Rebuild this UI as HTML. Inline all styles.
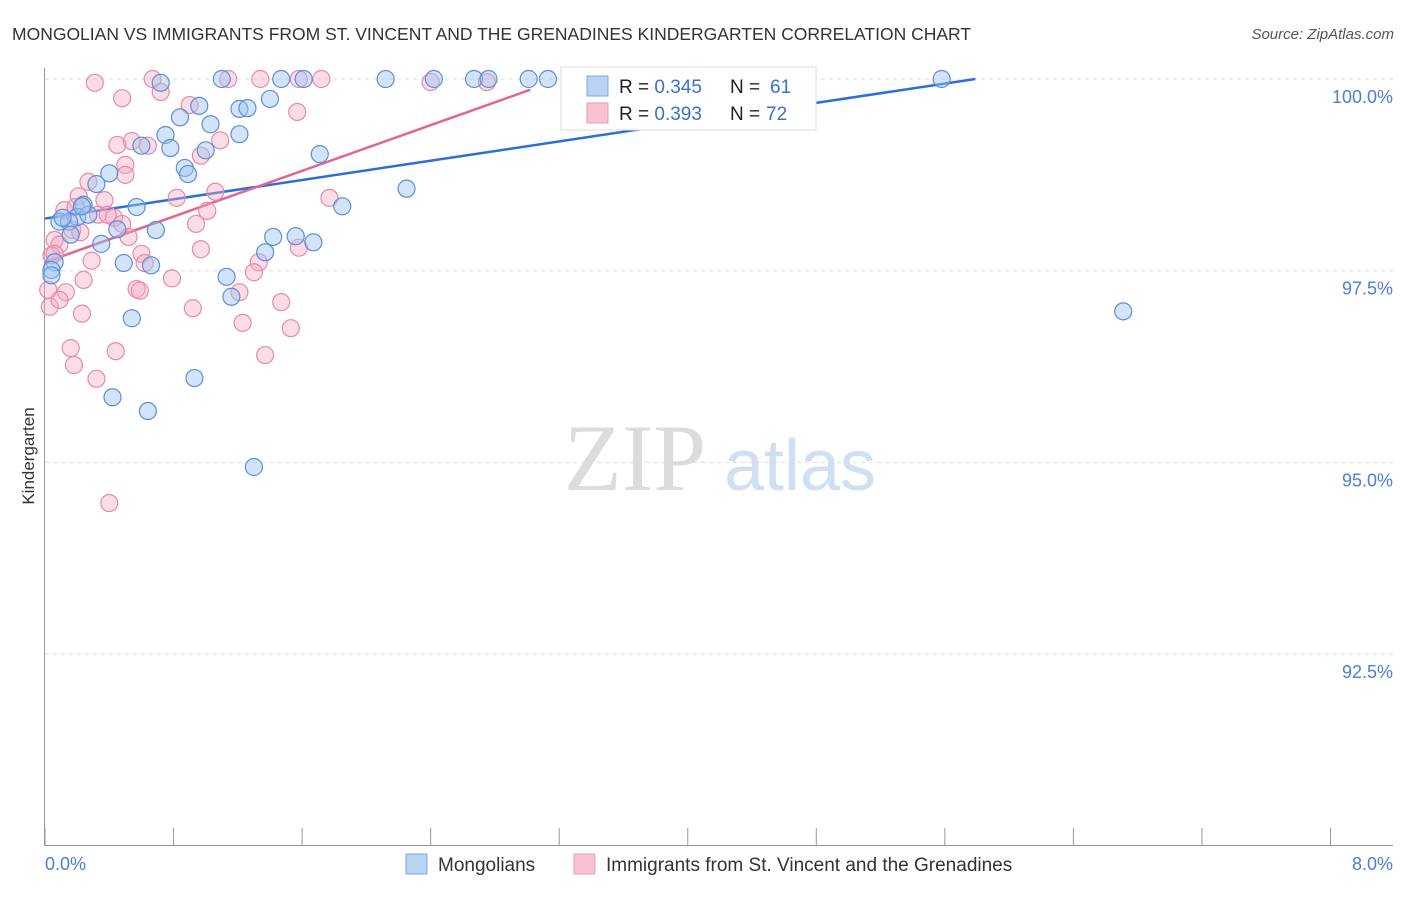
<!DOCTYPE html>
<html><head><meta charset="utf-8">
<style>
body{margin:0;background:#fff;font-family:"Liberation Sans",sans-serif;}
</style></head>
<body>
<svg id="chart" width="1406" height="892" xmlns="http://www.w3.org/2000/svg">
<text x="12" y="40" font-size="17.5" fill="#333">MONGOLIAN VS IMMIGRANTS FROM ST. VINCENT AND THE GRENADINES KINDERGARTEN CORRELATION CHART</text>
<text x="1394" y="39" font-size="15" fill="#555" font-style="italic" text-anchor="end">Source: ZipAtlas.com</text>
<g>
<text x="635" y="490" font-size="95" fill="#dcdcdc" font-family="Liberation Serif,serif" text-anchor="middle">ZIP</text>
<text x="800" y="490" font-size="72" fill="#cfe0f3" text-anchor="middle">atlas</text>
</g>
<g id="grid"></g>
<g id="axes"></g>
<g id="trend"></g>
<g id="points"></g>
<text transform="translate(34,456) rotate(-90)" font-size="17" fill="#333" text-anchor="middle">Kindergarten</text>
<text x="45" y="870" font-size="18" fill="#4a7fd4">0.0%</text>
<text x="1393" y="870" font-size="18" fill="#4a7fd4" text-anchor="end">8.0%</text>
<g>
<rect x="561" y="67" width="255" height="63" fill="#fff" stroke="#ddd"/>
<rect x="587" y="76" width="21" height="20" fill="#b9d3f5" stroke="#7aa7e5"/>
<rect x="587" y="103" width="21" height="20" fill="#f7c3d3" stroke="#ec9bb6"/>
<text x="619" y="93" font-size="19" fill="#222">R = <tspan fill="#3b72c9">0.345</tspan><tspan x="730">N = </tspan><tspan x="770" fill="#3b72c9">61</tspan></text>
<text x="619" y="120" font-size="19" fill="#222">R = <tspan fill="#3b72c9">0.393</tspan><tspan x="730">N = </tspan><tspan x="766" fill="#3b72c9">72</tspan></text>
</g>
<g>
<rect x="406" y="854" width="21" height="20" fill="#b9d3f5" stroke="#7aa7e5"/>
<text x="438" y="871" font-size="19" fill="#333">Mongolians</text>
<rect x="574" y="854" width="21" height="20" fill="#f7c3d3" stroke="#ec9bb6"/>
<text x="606" y="871" font-size="19" fill="#333">Immigrants from St. Vincent and the Grenadines</text>
</g>
</svg>
<script>
const yTicks=[100,97.5,95,92.5];
const yTickLabels=["100.0%","97.5%","95.0%","92.5%"];
const xTicks=[0,0.8,1.6,2.4,3.2,4.0,4.8,5.6,6.4,7.2,8.0];
const blueX=[0.72,1.10,1.47,1.61,2.12,2.42,2.67,2.76,3.01,3.13,5.58,0.96,0.84,1.03,1.21,1.26,1.40,0.75,0.60,0.78,1.00,1.21,1.71,0.87,0.89,0.40,0.32,2.25,0.57,1.85,0.24,0.20,0.09,0.15,0.27,0.45,0.69,0.16,0.35,1.42,1.56,1.67,1.37,0.49,0.66,0.06,0.04,0.04,1.13,1.16,0.54,6.71,0.93,0.42,0.64,1.30,0.11,0.23];
const blueY=[99.95,100,100,100,100,100,100,100,100,100,100,99.65,99.50,99.41,99.61,99.62,99.74,99.27,99.13,99.10,99.07,99.28,99.02,98.84,98.76,98.77,98.63,98.57,98.33,98.34,98.36,98.20,98.14,98.14,98.23,98.04,98.03,97.97,97.85,97.94,97.95,97.87,97.74,97.60,97.57,97.61,97.51,97.44,97.42,97.16,96.88,96.97,96.10,95.85,95.67,94.94,98.19,98.34];
const pinkX=[0.31,0.67,0.72,1.14,1.34,1.58,1.72,2.40,2.75,0.48,0.90,1.57,0.54,0.45,0.64,1.09,0.97,0.50,0.50,0.27,0.21,0.37,1.06,0.82,1.77,0.12,0.19,0.33,0.43,1.01,0.17,0.22,0.48,0.94,0.06,0.09,0.52,0.04,0.60,0.97,1.58,0.29,0.62,1.33,1.30,0.24,0.79,0.57,0.59,0.13,1.21,0.03,0.09,0.23,0.92,1.47,1.23,1.53,0.16,0.44,0.18,1.37,0.32,0.40,0.06,0.02,0.39];
const pinkY=[99.95,100,99.83,100,100,100,100,99.96,99.96,99.75,99.66,99.57,99.19,99.14,99.13,99.20,99.00,98.88,98.75,98.66,98.47,98.42,98.53,98.45,98.45,98.29,98.33,98.23,98.19,98.28,98.03,98.00,98.11,98.11,97.90,97.84,97.94,97.70,97.72,97.78,97.80,97.63,97.60,97.61,97.48,97.38,97.40,97.26,97.24,97.22,97.22,97.03,97.12,96.94,97.01,97.09,96.82,96.75,96.49,96.45,96.27,96.40,96.09,94.47,97.72,97.25,98.23];
const blueTrendX=[0,5.79];
const blueTrendY=[98.18,100];
const pinkTrendX=[0,3.02];
const pinkTrendY=[97.61,99.86];

const NS="http://www.w3.org/2000/svg";
const X=v=>45+v/8*1285.5;
const Y=v=>79+(100-v)/2.5*191.7;
function mk(tag,attrs,parent){const e=document.createElementNS(NS,tag);for(const k in attrs)e.setAttribute(k,attrs[k]);parent.appendChild(e);return e;}
const grid=document.getElementById('grid'),axes=document.getElementById('axes'),trend=document.getElementById('trend'),pts=document.getElementById('points');
yTicks.forEach((t,i)=>{
  const l=mk('line',{x1:45,x2:1393,y1:Y(t),y2:Y(t),stroke:'#ddd','stroke-dasharray':'4,4'},grid);
  
  
  const tx=mk('text',{x:1393,y:Y(t)+24,'font-size':18,fill:'#4a7fd4','text-anchor':'end'},axes);
  tx.textContent=yTickLabels[i];
  
  
});
const ax=mk('line',{x1:44.5,x2:44.5,y1:68,y2:846,stroke:'#999'},axes);


const bx=mk('line',{x1:45,x2:1393,y1:845.5,y2:845.5,stroke:'#999'},axes);


xTicks.forEach(t=>{
  const l=mk('line',{x1:X(t),x2:X(t),y1:828,y2:846,stroke:'#999'},axes);
  
  
});
function drawPts(xs,ys,fill,stroke,name){
  xs.forEach((x,i)=>{
    const c=mk('circle',{cx:X(x),cy:Y(ys[i]),r:8.5,fill:fill,stroke:stroke,'stroke-width':1.2},pts);
    
    
  });
}
drawPts(pinkX,pinkY,'rgba(245,170,195,0.4)','#e88aa8','immigrants-point');
drawPts(blueX,blueY,'rgba(160,195,240,0.45)','#5b8fd9','mongolians-point');
const bl=mk('line',{x1:X(blueTrendX[0]),y1:Y(blueTrendY[0]),x2:X(blueTrendX[1]),y2:Y(blueTrendY[1]),stroke:'#2a6fd6','stroke-width':2.5},trend);


const pl=mk('line',{x1:X(pinkTrendX[0]),y1:Y(pinkTrendY[0]),x2:X(pinkTrendX[1]),y2:Y(pinkTrendY[1]),stroke:'#e2668f','stroke-width':2.5},trend);


</script>
</body></html>
